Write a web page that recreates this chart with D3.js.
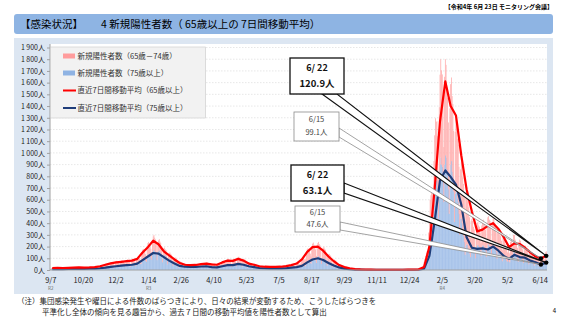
<!DOCTYPE html>
<html>
<head>
<meta charset="utf-8">
<script src="https://cdn.jsdelivr.net/npm/d3@7"></script>
<style>
  body { margin: 0; background: #fff; }
  text { font-family: "Noto Sans CJK JP", "Noto Sans", sans-serif; }
</style>
</head>
<body>
<div id="chart"></div>
<script>
// daily counts, one row per week (Mon..Sun), starting Mon 2020-09-07
const cases75plus = [
  [5,8,9,10,9,8,7],[5,8,10,9,9,8,7],[4,8,9,10,9,9,7],[5,9,10,11,10,9,8],[6,10,12,12,11,10,9],
  [6,10,11,12,11,11,9],[6,10,12,12,11,10,9],[7,11,13,13,12,11,10],[7,12,14,14,13,13,11],[9,15,17,18,16,16,14],
  [12,20,23,24,22,21,18],[16,27,31,32,30,28,24],[19,32,37,38,35,34,29],[23,38,44,46,42,40,34],[25,42,48,50,46,44,38],
  [27,45,52,54,50,47,40],[33,55,63,66,60,58,50],[51,85,98,102,94,89,77],[69,115,132,138,127,121,104],[87,145,167,174,160,152,131],
  [84,140,161,168,154,147,126],[66,110,127,132,121,116,99],[48,80,92,96,88,84,72],[33,55,63,66,61,58,50],[21,35,40,42,39,37,32],
  [17,28,32,34,31,29,25],[16,27,31,32,30,28,24],[16,27,31,33,30,28,24],[18,30,35,36,33,32,27],[19,32,37,38,35,34,29],
  [15,25,29,30,28,26,23],[13,22,25,26,24,23,20],[19,32,37,38,35,34,29],[25,42,48,50,46,44,38],[25,42,48,50,46,44,38],
  [31,52,60,62,57,55,47],[27,45,52,54,50,47,40],[19,32,37,38,35,34,29],[14,24,28,29,26,25,22],[10,17,20,20,19,18,15],
  [9,15,17,18,17,16,14],[8,14,16,17,15,15,13],[8,14,16,17,15,15,13],[8,14,16,17,15,15,13],[9,15,17,18,17,16,14],
  [12,20,23,24,22,21,18],[15,25,29,30,28,26,23],[21,35,40,42,39,37,32],[39,65,75,78,72,68,59],[54,90,104,108,99,95,81],
  [60,100,115,120,110,105,90],[51,85,98,102,94,89,77],[36,60,69,72,66,63,54],[23,38,44,46,42,40,34],[13,22,25,26,24,23,20],
  [7,12,14,14,13,13,11],[4,7,8,8,8,7,6],[2,4,5,5,4,4,4],[2,3,3,4,3,3,3],[1,2,2,3,2,2,2],
  [0,1,1,2,1,1,1],[1,1,2,1,1,1,0],[0,1,1,2,1,1,1],[1,1,1,2,1,1,1],[0,1,2,1,1,1,1],
  [1,1,1,2,1,1,0],[0,1,1,2,1,1,1],[1,2,2,3,2,2,2],[1,1,2,1,1,1,1],[1,2,3,4,4,4,3],
  [10,22,34,48,60,74,80],[86,176,253,330,350,380,370],[300,550,680,770,760,770,690],[440,760,900,960,900,880,770],[580,900,980,960,860,810,690],
  [480,790,900,930,840,800,670],[410,650,700,690,610,580,480],[300,440,440,400,330,290,240],[130,210,220,215,185,170,140],[110,180,190,200,180,175,150],
  [100,190,210,215,200,195,165],[120,190,210,210,195,190,165],[110,190,215,220,205,200,170],[120,200,215,210,195,185,155],[95,160,165,155,135,130,110],
  [75,130,135,120,100,92,78],[70,85,70,65,115,125,110],[100,170,165,140,115,110,95],[70,115,125,120,105,100,85],[60,100,105,100,85,80,70],
  [48,80,85,80,70,65,55],[35,60,62,55,50,45,40],[30,50,52,60,65,70,58],[45,80,85]
].flat();

const cases65to74 = [
  [5,9,10,11,10,10,8],[6,10,12,12,11,10,9],[5,9,10,11,10,9,8],[6,9,11,10,10,9,8],[6,10,11,12,11,11,9],
  [7,12,14,14,13,13,11],[6,10,12,12,11,10,9],[7,11,13,13,12,12,10],[8,13,15,16,14,14,12],[10,17,20,20,19,18,15],
  [15,25,29,30,27,26,23],[18,30,35,36,33,32,27],[20,33,38,40,36,35,30],[19,32,37,38,35,34,29],[20,33,38,40,36,35,30],
  [21,35,40,42,39,37,32],[24,40,46,48,44,42,36],[39,65,75,78,72,68,59],[51,85,98,102,94,89,77],[63,105,121,126,116,110,95],
  [48,80,92,96,88,84,72],[30,50,58,60,55,53,45],[27,45,52,54,50,47,41],[21,35,40,42,39,37,32],[15,25,29,30,28,26,23],
  [10,17,20,20,19,18,15],[9,15,17,18,17,16,14],[10,16,18,19,18,17,14],[12,20,23,24,22,21,18],[14,23,26,28,25,24,21],
  [14,23,26,28,25,24,21],[14,23,27,27,25,24,21],[20,33,38,40,36,35,30],[23,38,44,46,42,40,34],[22,36,41,43,40,38,32],
  [26,43,49,52,47,45,39],[21,35,40,42,39,37,32],[14,23,26,28,25,24,21],[13,21,24,25,23,22,19],[9,15,17,18,17,16,14],
  [8,13,15,16,14,14,12],[7,12,14,14,13,13,11],[8,13,15,16,14,14,12],[8,14,16,17,15,15,13],[11,18,21,22,20,19,16],
  [13,22,25,26,24,23,20],[18,30,35,36,33,32,27],[33,55,63,66,61,58,50],[54,90,104,108,99,95,81],[63,105,121,126,116,110,95],
  [60,100,115,120,110,105,90],[48,80,92,96,88,84,72],[33,55,63,66,61,58,50],[22,37,43,44,41,39,33],[12,20,23,24,22,21,18],
  [8,13,15,16,14,14,12],[5,8,9,10,9,8,7],[2,4,5,5,4,4,4],[1,2,3,3,2,2,2],[1,2,2,3,2,2,2],
  [1,1,1,1,1,1,1],[0,1,2,1,1,1,1],[1,1,1,2,1,1,0],[0,1,1,1,1,1,1],[1,1,1,2,1,1,1],
  [0,1,1,1,1,1,1],[1,1,2,1,1,1,1],[1,1,2,1,1,1,1],[1,2,2,3,2,2,2],[1,3,4,4,4,4,3],
  [11,23,35,48,61,73,82],[70,144,207,270,288,313,305],[210,380,470,526,505,500,453],[358,630,768,840,805,790,679],[470,750,820,792,702,660,570],
  [354,590,687,714,645,618,518],[340,530,588,582,512,491,402],[252,420,480,500,462,445,381],[266,410,458,457,398,366,310],[166,240,247,220,189,172,147],
  [80,170,190,195,180,175,155],[110,190,210,220,215,210,180],[130,210,235,240,225,220,190],[130,210,225,220,205,195,165],[115,190,195,185,165,160,140],
  [95,160,165,140,120,108,92],[80,95,80,75,125,135,120],[80,130,135,120,115,110,95],[70,125,135,130,115,110,90],[60,100,105,100,90,85,70],
  [42,70,75,70,60,55,45],[35,55,58,55,50,50,45],[35,55,58,55,55,55,47],[45,70,75]
].flat();

// 7-day moving averages, read every Wednesday from 2020-09-09 to 2022-06-22
const avg65plus = [
  17,18,17,18,20,22,20,22,25,32,
  45,57,65,70,75,80,95,150,195,250,
  220,160,125,90,60,45,42,43,50,55,
  48,45,65,80,78,95,80,55,45,32,
  28,26,27,28,33,42,55,90,155,195,
  200,165,115,75,42,25,15,8,5,4,
  3,2,2,2,2,2,2,3,3,6,
  25,200,700,1270,1610,1400,1320,980,690,500,
  330,345,377,400,351,280,195,228,222,190,
  150,115,99.1,120.9
];
const avg75plus = [
  8,8,8,9,10,10,10,11,12,15,
  20,27,32,38,42,45,55,85,115,145,
  140,110,80,55,35,28,27,27,30,32,
  25,22,32,42,42,52,45,32,24,17,
  15,14,14,14,15,20,25,35,65,90,
  100,85,60,38,22,12,7,4,3,2,
  1,1,1,1,1,1,1,2,1,3,
  12,120,420,765,850,795,730,560,280,190,
  180,185,175,200,165,120,95,130,110,105,
  80,65,47.6,63.1
];

const tickDates = ["2020-09-07","2020-10-20","2020-12-02","2021-01-14","2021-02-26","2021-04-10",
  "2021-05-23","2021-07-05","2021-08-17","2021-09-29","2021-11-11","2021-12-24","2022-02-05",
  "2022-03-20","2022-05-02","2022-06-14"];
const eraLabels = [["R2","2020-09-07"],["R3","2021-01-14"],["R4","2022-02-05"]];
const yTicks = d3.range(0, 2000, 100);

const legendLabels = ["新規陽性者数（65歳－74歳）","新規陽性者数（75歳以上）",
  "直近7日間移動平均（65歳以上）","直近7日間移動平均（75歳以上）"];

const colors = {pink: "#ffaaaa", blue: "#a9c4ea", red: "#ff0000", navy: "#1f3d7a"};

const W = 569, H = 320;
const plot = {left: 50, right: 547, top: 44, bottom: 270};

const parse = d3.timeParse("%Y-%m-%d");
const dayAt = (i) => d3.timeHour.offset(d3.timeDay.offset(new Date(2020, 8, 7), i), 12);
const avgDate = (k) => d3.timeHour.offset(d3.timeDay.offset(new Date(2020, 8, 9), 7 * k), 12);

const svg = d3.select("#chart").append("svg")
  .attr("width", W).attr("height", H);

// header
svg.append("text").attr("x", 553).attr("y", 9).attr("text-anchor", "end")
  .attr("font-size", 6).attr("font-weight", "bold").text("【令和4年 6月 23日 モニタリング会議】");
svg.append("rect").attr("x", 14).attr("y", 14).attr("width", 539).attr("height", 20)
  .attr("rx", 3).attr("fill", "#8eb4e3");
svg.append("text").attr("x", 20).attr("y", 28).attr("font-size", 10.5).text("【感染状況】");
svg.append("text").attr("x", 101).attr("y", 28).attr("font-size", 10.5)
  .text("4 新規陽性者数（ 65歳以上の 7日間移動平均）");

// panel + plot background
svg.append("rect").attr("x", 14).attr("y", 38).attr("width", 539).attr("height", 256).attr("fill", "#dce6f2");
svg.append("rect").attr("x", plot.left).attr("y", plot.top)
  .attr("width", plot.right - plot.left).attr("height", plot.bottom - plot.top).attr("fill", "#fff");

const x = d3.scaleTime()
  .domain([new Date(2020, 8, 6, 12), new Date(2022, 5, 23, 12)])
  .range([plot.left, plot.right]);
const y = d3.scaleLinear().domain([0, 1900]).range([plot.bottom, 47.5]);

// grid
svg.append("g").selectAll("line").data(yTicks.slice(1)).join("line")
  .attr("x1", plot.left).attr("x2", plot.right)
  .attr("y1", d => y(d)).attr("y2", d => y(d))
  .attr("stroke", "#d6d6d6").attr("stroke-width", 0.6).attr("stroke-dasharray", "1.5,1.5");

// stacked daily bars
const step = x(dayAt(1)) - x(dayAt(0));
const bars = cases75plus.map((b, i) => ({date: dayAt(i), b, p: cases65to74[i]}));
svg.append("g").selectAll("rect").data(bars).join("rect")
  .attr("x", d => x(d.date) - step / 2).attr("width", step + 0.35)
  .attr("y", d => y(d.b)).attr("height", d => y(0) - y(d.b))
  .attr("fill", colors.blue);
svg.append("g").selectAll("rect").data(bars).join("rect")
  .attr("x", d => x(d.date) - step / 2).attr("width", step)
  .attr("y", d => y(d.b + d.p)).attr("height", d => y(d.b) - y(d.b + d.p))
  .attr("fill", colors.pink);

// moving average lines
const line = d3.line().x(d => x(d.date)).y(d => y(d.v));
const redPts = avg65plus.map((v, k) => ({date: avgDate(k), v}));
const navyPts = avg75plus.map((v, k) => ({date: avgDate(k), v}));
svg.append("path").datum(navyPts).attr("d", line)
  .attr("fill", "none").attr("stroke", colors.navy).attr("stroke-width", 2.2).attr("stroke-linejoin", "round");
svg.append("path").datum(redPts).attr("d", line)
  .attr("fill", "none").attr("stroke", colors.red).attr("stroke-width", 2.2).attr("stroke-linejoin", "round");

// axes
const yAxis = d3.axisLeft(y).tickValues(yTicks).tickSize(3)
  .tickFormat(v => (v >= 1000 ? Math.floor(v / 1000) + " " + String(v % 1000).padStart(3, "0") : v) + "人");
const yg = svg.append("g").attr("transform", `translate(${plot.left},0)`).call(yAxis);
yg.select(".domain").attr("stroke", "#a0a0a0").attr("d", `M0,${plot.top}V${plot.bottom}`);
yg.selectAll(".tick line").attr("stroke", "#a0a0a0");
yg.selectAll(".tick text").attr("font-size", 7).attr("fill", "#222").attr("x", -5)
  .style("font-family", "'Noto Sans CJK JP', sans-serif");

svg.append("line").attr("x1", plot.left).attr("x2", plot.right)
  .attr("y1", plot.bottom).attr("y2", plot.bottom).attr("stroke", "#a0a0a0");

const xg = svg.append("g");
xg.selectAll("text").data(tickDates).join("text")
  .attr("x", d => x(d3.timeHour.offset(parse(d), 12))).attr("y", 283)
  .attr("text-anchor", "middle").attr("font-size", 7.5).attr("fill", "#222")
  .text(d => d3.timeFormat("%-m/%-d")(parse(d)));
xg.selectAll(".era").data(eraLabels).join("text").attr("class", "era")
  .attr("x", d => x(d3.timeHour.offset(parse(d[1]), 12))).attr("y", 290)
  .attr("text-anchor", "middle").attr("font-size", 4.5).attr("fill", "#666").text(d => d[0]);

// legend
const lg = svg.append("g");
lg.append("rect").attr("x", 50.5).attr("y", 47).attr("width", 155).attr("height", 71)
  .attr("fill", "#f2f2f2").attr("stroke", "#c8c8c8").attr("stroke-width", 0.6);
const legendY = [56, 73, 90.5, 108];
legendLabels.forEach((lab, i) => {
  if (i < 2) {
    lg.append("rect").attr("x", 63).attr("y", legendY[i] - 2.5).attr("width", 12).attr("height", 5)
      .attr("fill", i === 0 ? "#ff9c9c" : "#8fb3e3");
  } else {
    lg.append("line").attr("x1", 63).attr("x2", 76).attr("y1", legendY[i]).attr("y2", legendY[i])
      .attr("stroke", i === 2 ? colors.red : colors.navy).attr("stroke-width", 2);
  }
  lg.append("text").attr("x", 77.5).attr("y", legendY[i] + 2.6).attr("font-size", 7.5)
    .attr("fill", "#333").text(lab);
});

// callouts for the latest two weeks
const last = avg65plus.length - 1;
const callouts = [
  {k: last, v: avg65plus[last], box: [290, 58, 54, 36], bold: true, base: [[322, 94], [337, 94]]},
  {k: last - 1, v: avg65plus[last - 1], box: [294, 112, 45, 29], bold: false, base: [[339, 128], [339, 137]]},
  {k: last, v: avg75plus[last], box: [291, 165, 53, 36], bold: true, base: [[344, 183], [344, 193]]},
  {k: last - 1, v: avg75plus[last - 1], box: [295, 206, 45, 26], bold: false, base: [[340, 222], [340, 230]]}
];
const fmtDay = d3.timeFormat("%-m/%-d");
const cg = svg.append("g");
callouts.forEach(c => {
  const tx = x(avgDate(c.k)), ty = y(c.v);
  const stroke = c.bold ? "#111" : "#8c8c8c";
  cg.append("path")
    .attr("d", `M${c.base[0][0]},${c.base[0][1]}L${tx},${ty}L${c.base[1][0]},${c.base[1][1]}Z`)
    .attr("fill", "#fff").attr("stroke", stroke).attr("stroke-width", c.bold ? 1.1 : 0.8);
});
callouts.forEach(c => {
  const [bx, by, bw, bh] = c.box;
  const stroke = c.bold ? "#111" : "#8c8c8c";
  cg.append("rect").attr("x", bx).attr("y", by).attr("width", bw).attr("height", bh)
    .attr("fill", "#fff").attr("stroke", stroke).attr("stroke-width", c.bold ? 1.3 : 0.8);
  const dstr = fmtDay(avgDate(c.k));
  cg.append("text").attr("x", bx + bw / 2).attr("y", by + bh * 0.36)
    .attr("text-anchor", "middle").attr("font-size", c.bold ? 9 : 7.5)
    .attr("font-weight", c.bold ? "bold" : "normal").attr("fill", c.bold ? "#111" : "#444")
    .text(c.bold ? dstr.replace("/", "/ ") : dstr);
  cg.append("text").attr("x", bx + bw / 2).attr("y", by + bh * 0.8)
    .attr("text-anchor", "middle").attr("font-size", c.bold ? 9.5 : 7.5)
    .attr("font-weight", c.bold ? "bold" : "normal").attr("fill", c.bold ? "#111" : "#444")
    .text(c.v.toFixed(1) + "人");
});
cg.selectAll("circle").data(callouts).join("circle")
  .attr("cx", d => x(avgDate(d.k))).attr("cy", d => y(d.v)).attr("r", 2.2).attr("fill", "#000");

// footnote
svg.append("text").attr("x", 17).attr("y", 304).attr("font-size", 7.5).attr("fill", "#222")
  .text("（注）集団感染発生や曜日による件数のばらつきにより、日々の結果が変動するため、こうしたばらつきを");
svg.append("text").attr("x", 42).attr("y", 315).attr("font-size", 7.5).attr("fill", "#222")
  .text("平準化し全体の傾向を見る趣旨から、過去７日間の移動平均値を陽性者数として算出");
svg.append("text").attr("x", 556).attr("y", 313).attr("font-size", 6).attr("text-anchor", "end").text("4");
</script>
</body>
</html>
